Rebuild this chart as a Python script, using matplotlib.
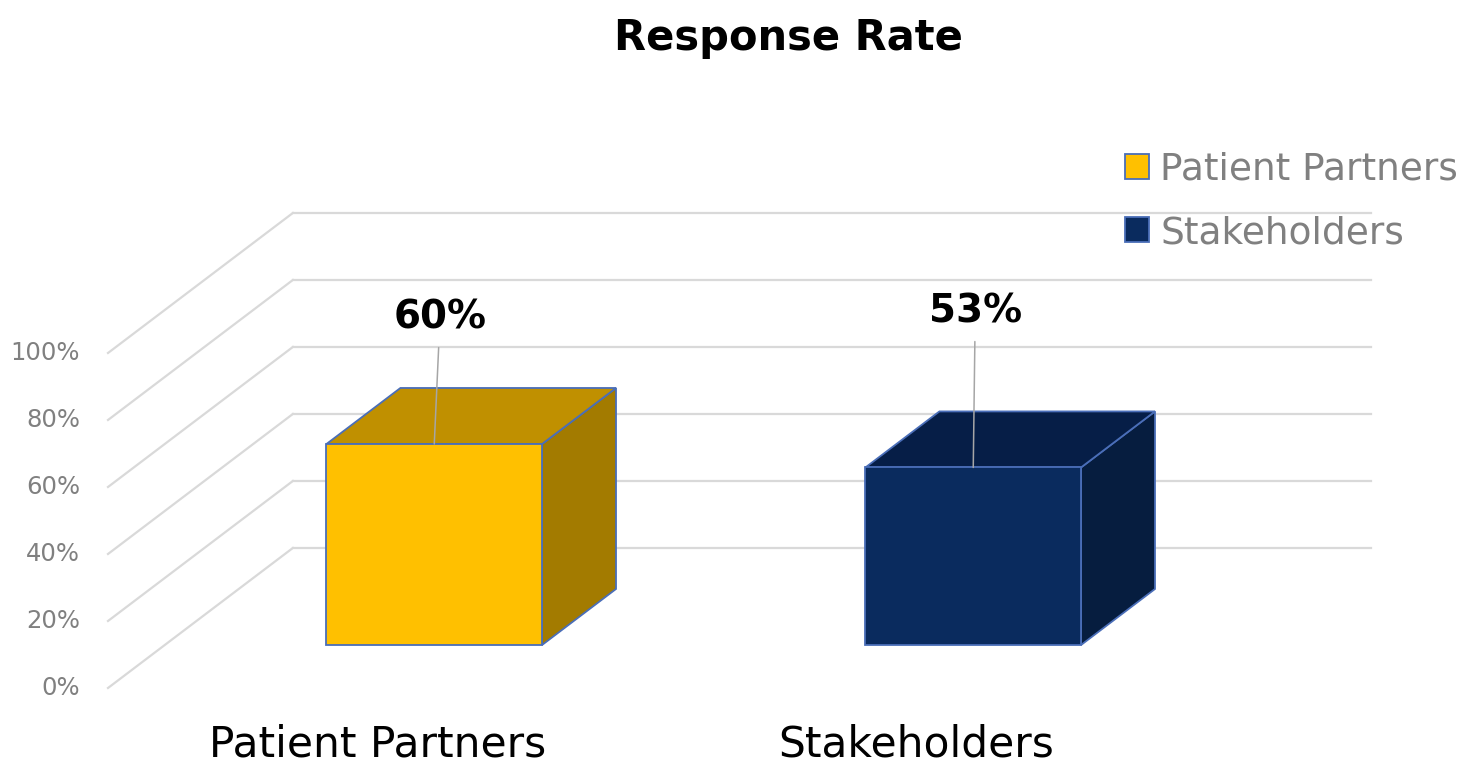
import matplotlib.pyplot as plt
from matplotlib.patches import Patch

categories = ['Patient Partners', 'Stakeholders']
values = [60, 53]
value_labels = ['60%', '53%']
y_ticks = [0, 20, 40, 60, 80, 100]
y_tick_labels = ['0%', '20%', '40%', '60%', '80%', '100%']
front_colors = ['#FFC000', '#0A2B5E']
top_colors = ['#C09000', '#061E47']
side_colors = ['#A37B00', '#061D3F']

# fake 3d: how far the back wall is shifted (data units)
DX = 0.343
DY = 41.8
BAR_W = 0.4
BAR_D0 = 0.307   # bar front, as fraction of the depth
BAR_D1 = 0.707   # bar back
label_pos = [(0.116, 110.6), (1.109, 112.4)]  # data labels were moved by hand

grid_c = '#D9D9D9'
edge_c = '#4A6EB8'
text_gray = '#808080'


def proj(x, y, d):
    return x + d * DX, y + d * DY


fig = plt.figure(figsize=(14.73, 7.65), dpi=100)
ax = fig.add_axes([0, 0, 1, 1])
ax.set_xlim(-0.7004, 2.0325)
ax.set_ylim(-22.99, 205.37)
ax.axis('off')

# side wall diagonals + back wall gridlines
x0, x1 = -0.5, len(categories) - 0.5
for t, lbl in zip(y_ticks, y_tick_labels):
    bx0, by = proj(x0, t, 1)
    bx1, _ = proj(x1, t, 1)
    ax.plot([x0, bx0], [t, by], color=grid_c, lw=1.6, zorder=1)
    ax.plot([bx0, bx1], [by, by], color=grid_c, lw=1.6, zorder=1)
    ax.text(x0 - 0.052, t, lbl, ha='right', va='center', fontsize=17.5, color=text_gray)

for i, v in enumerate(values):
    l, r = i - BAR_W / 2, i + BAR_W / 2
    fl, fb = proj(l, 0, BAR_D0)
    fr, _ = proj(r, 0, BAR_D0)
    ft = fb + v
    bl, bt = proj(l, v, BAR_D1)
    br, _ = proj(r, v, BAR_D1)
    _, bb = proj(r, 0, BAR_D1)
    kw = dict(edgecolor=edge_c, lw=1.3, zorder=3)
    ax.fill([fr, br, br, fr], [fb, bb, bt, ft], facecolor=side_colors[i], **kw)
    ax.fill([fl, fr, br, bl], [ft, ft, bt, bt], facecolor=top_colors[i], **kw)
    ax.fill([fl, fr, fr, fl], [fb, fb, ft, ft], facecolor=front_colors[i], **kw)

    ax.annotate(value_labels[i], xy=((fl + fr) / 2, ft), xytext=label_pos[i],
                ha='center', va='center', fontsize=28, fontweight='bold',
                arrowprops=dict(arrowstyle='-', color='#A6A6A6', lw=1.1,
                                shrinkA=6, shrinkB=0),
                zorder=4)

    ax.text(i, -20.6, categories[i], ha='center', va='baseline', fontsize=30.5)

fig.text(0.535, 1 - 50 / 765, 'Response Rate', ha='center', va='baseline',
         fontsize=30, fontweight='bold')

handles = [Patch(facecolor=c, edgecolor=edge_c, lw=1.3, label=n)
           for c, n in zip(front_colors, categories)]
fig.legend(handles=handles, loc='upper left', bbox_to_anchor=(1125 / 1473, 1 - 152 / 765),
           frameon=False, fontsize=27, labelcolor=text_gray, handlelength=0.64,
           handleheight=0.64, handletextpad=0.3, borderpad=0, borderaxespad=0,
           labelspacing=0.72)

fig.savefig('out.png', dpi=100)
